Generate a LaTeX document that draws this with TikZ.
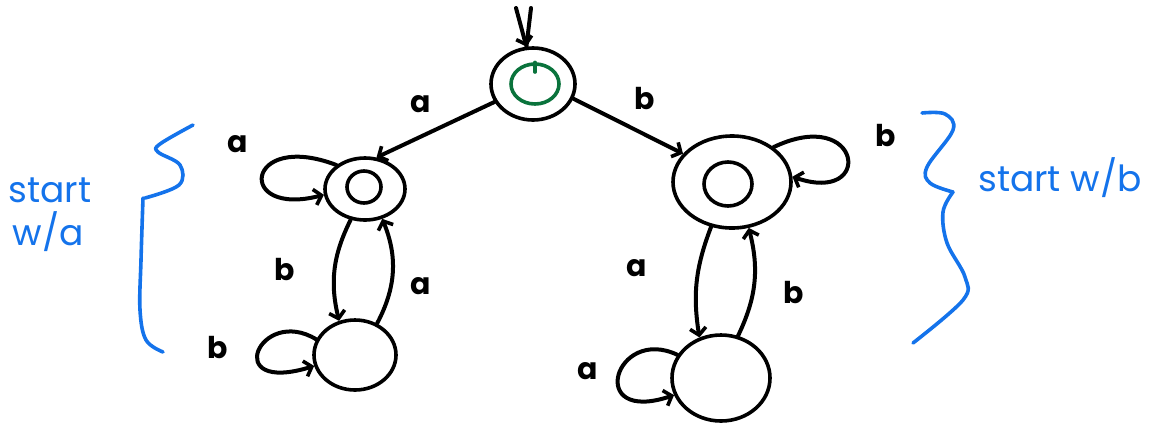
\documentclass[tikz,border=0pt]{standalone}
\usepackage{fontspec}
\setmainfont{Poppins}
\usetikzlibrary{shapes.geometric,arrows.meta}
\definecolor{inkblue}{RGB}{20,115,235}
\definecolor{inkgreen}{RGB}{10,115,60}
\begin{document}
\begin{tikzpicture}[x=1pt,y=-1pt, line cap=round, line join=round,
  state/.style={draw, ellipse, line width=3.6pt, inner sep=0pt},
  innerring/.style={draw, ellipse, line width=3.6pt, inner sep=0pt},
  edge/.style={line width=4pt, -{Straight Barb[length=7pt,width=16pt,line width=3.6pt]}},
  lab/.style={font=\fontsize{30}{34}\selectfont\bfseries},
  brace/.style={inkblue, line width=3.6pt},
  note/.style={inkblue, font=\fontsize{36}{40}\selectfont}]
\useasboundingbox (0,0) rectangle (1150,424);
% states
\node[state, minimum width=84pt, minimum height=72pt] (q0) at (533,84) {};
\node[innerring, inkgreen, minimum width=48pt, minimum height=40pt] (q0i) at (535,84) {};
\draw[inkgreen, line width=3.2pt] (q0i.north) -- ++(0,10);
\node[state, minimum width=80pt, minimum height=62pt] (qa) at (365,189) {};
\node[innerring, minimum width=34pt, minimum height=32pt] (qai) at (364,187) {};
\node[state, minimum width=118pt, minimum height=92pt] (qb) at (732,182) {};
\node[innerring, minimum width=48pt, minimum height=44pt] (qbi) at (728,184) {};
\node[state, minimum width=82pt, minimum height=70pt] (bl) at (355,355) {};
\node[state, minimum width=98pt, minimum height=86pt] (br) at (721,378) {};
% start arrow
\coordinate (s1) at (516,8);
\coordinate (s2) at (531,8);
\draw[edge] (s1) -- (q0.100);
\draw[line width=4pt] (s2) -- (q0.100);
% transitions
\draw[edge] (q0.205) -- (qa.70) node[lab] (la1) at (421,104) {a};
\draw[edge] (q0.340) -- (qb.150) node[lab] (lb1) at (645,99) {b};
\draw[edge] (qa.140) .. controls (245,130) and (235,218) .. (qa.188) node[lab] (la2) at (238,144) {a};
\draw[edge] (qa.245) to[bend right=20] (bl.115) node[lab] (lb2) at (285,270) {b};
\draw[edge] (bl.55) to[bend right=25] (qa.300) node[lab] (la3) at (421,286) {a};
\draw[edge] (bl.158) .. controls (260,305) and (220,395) .. (bl.195) node[lab] (lb3) at (218,348) {b};
\draw[edge] (qb.40) .. controls (862,105) and (875,205) .. (qb.5) node[lab] (lb4) at (886,136) {b};
\draw[edge] (qb.245) to[bend right=15] (br.118) node[lab] (la4) at (637,268) {a};
\draw[edge] (br.68) to[bend right=20] (qb.290) node[lab] (lb5) at (794,293) {b};
\draw[edge] (br.152) .. controls (615,325) and (585,425) .. (br.200) node[lab] (la5) at (588,371) {a};
% braces
\draw[brace] plot[smooth, tension=0.6] coordinates {(193,125) (160,144) (158,152) (180,165) (179,185) (145,198)};
\draw[brace] plot[smooth, tension=0.6] coordinates {(143,198) (141,260) (140,310) (146,340) (163,352)};
\draw[brace] plot[smooth, tension=0.6] coordinates {(922,113) (945,114) (953,130) (927,167) (930,183) (953,192)};
\draw[brace] plot[smooth, tension=0.6] coordinates {(953,192) (943,212) (947,243) (965,277) (963,300) (913,343)};
\node[note] (sa) at (50,190) {start};
\node[note] (wa) at (48,232) {w/a};
\node[note] (sb) at (1060,178) {start w/b};
\end{tikzpicture}
\end{document}
